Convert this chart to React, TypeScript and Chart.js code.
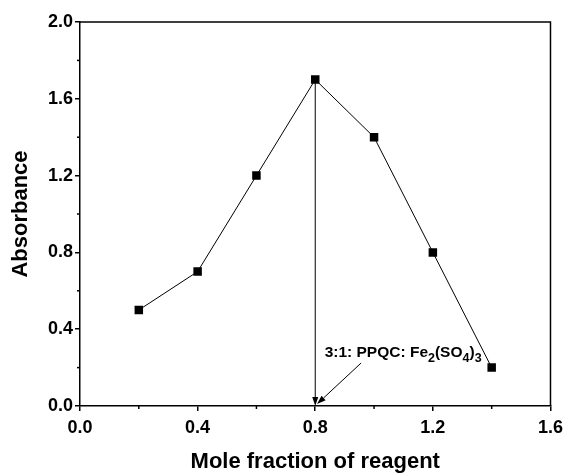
import React, { useEffect, useRef } from "react";
import { Chart, registerables } from "chart.js";

Chart.register(...registerables);

const moleFraction = [0.2, 0.4, 0.6, 0.8, 1.0, 1.2, 1.4];
const absorbance = [0.5, 0.7, 1.2, 1.7, 1.4, 0.8, 0.2];
const xMinorTicks = [0.2, 0.6, 1.0, 1.4];
const yMinorTicks = [0.2, 0.6, 1.0, 1.4, 1.8];

// annotation (data units)
const stoichX = 0.8;
const stoichTop = 1.7;
const labelPos = { x: 0.832, y: 0.257 };
const labelArrowFrom = { x: 0.956, y: 0.224 };
const labelArrowTo = { x: 0.806, y: 0.01 };

const FONT = "'Liberation Sans', Arial, sans-serif";

function arrow(ctx: CanvasRenderingContext2D, x1: number, y1: number, x2: number, y2: number) {
  const ang = Math.atan2(y2 - y1, x2 - x1);
  const len = 9;
  const half = 3;
  const bx = x2 - len * Math.cos(ang);
  const by = y2 - len * Math.sin(ang);
  ctx.beginPath();
  ctx.moveTo(x1, y1);
  ctx.lineTo(bx, by);
  ctx.stroke();
  ctx.beginPath();
  ctx.moveTo(x2, y2);
  ctx.lineTo(bx + half * Math.sin(ang), by - half * Math.cos(ang));
  ctx.lineTo(bx - half * Math.sin(ang), by + half * Math.cos(ang));
  ctx.closePath();
  ctx.fill();
}

const framePlugin = {
  id: "frame",
  afterDraw(chart: any) {
    const { ctx, chartArea, scales } = chart;
    const { left, right, top, bottom } = chartArea;
    ctx.save();
    ctx.strokeStyle = "#000";
    ctx.fillStyle = "#000";
    ctx.lineWidth = 1.5;
    ctx.beginPath();
    ctx.moveTo(left, top);
    ctx.lineTo(right, top);
    ctx.lineTo(right, bottom);
    ctx.stroke();
    // minor ticks
    xMinorTicks.forEach((v) => {
      const px = scales.x.getPixelForValue(v);
      ctx.beginPath();
      ctx.moveTo(px, bottom);
      ctx.lineTo(px, bottom + 3);
      ctx.stroke();
    });
    yMinorTicks.forEach((v) => {
      const py = scales.y.getPixelForValue(v);
      ctx.beginPath();
      ctx.moveTo(left, py);
      ctx.lineTo(left - 3, py);
      ctx.stroke();
    });
    ctx.restore();
  },
  afterDatasetsDraw(chart: any) {
    const { ctx, scales } = chart;
    const xs = scales.x;
    const ys = scales.y;
    ctx.save();
    ctx.strokeStyle = "#000";
    ctx.fillStyle = "#000";
    ctx.lineWidth = 1;
    arrow(ctx, xs.getPixelForValue(stoichX), ys.getPixelForValue(stoichTop), xs.getPixelForValue(stoichX), ys.getPixelForValue(0));
    arrow(
      ctx,
      xs.getPixelForValue(labelArrowFrom.x),
      ys.getPixelForValue(labelArrowFrom.y),
      xs.getPixelForValue(labelArrowTo.x),
      ys.getPixelForValue(labelArrowTo.y)
    );
    // label with subscripts
    const parts: [string, boolean][] = [
      ["3:1: PPQC: Fe", false],
      ["2", true],
      ["(SO", false],
      ["4", true],
      [")", false],
      ["3", true],
    ];
    let x = xs.getPixelForValue(labelPos.x);
    const y = ys.getPixelForValue(labelPos.y);
    ctx.textBaseline = "alphabetic";
    ctx.textAlign = "left";
    parts.forEach(([t, sub]) => {
      ctx.font = sub ? `bold 12.5px ${FONT}` : `bold 15.5px ${FONT}`;
      ctx.fillText(t, x, sub ? y + 5 : y);
      x += ctx.measureText(t).width;
    });
    ctx.restore();
  },
};

export default function App() {
  const ref = useRef<HTMLCanvasElement | null>(null);
  useEffect(() => {
    if (!ref.current) return;
    const chart = new Chart(ref.current, {
      type: "scatter",
      data: {
        datasets: [
          {
            data: moleFraction.map((x, i) => ({ x, y: absorbance[i] })),
            showLine: true,
            borderColor: "#000",
            borderWidth: 1,
            backgroundColor: "#000",
            pointStyle: "rect",
            pointRadius: 6,
            pointHoverRadius: 6,
            pointBorderWidth: 0,
          },
        ],
      },
      options: {
        animation: false,
        responsive: false,
        events: [],
        layout: { padding: { top: 22, right: 17, left: 0, bottom: 0 } },
        plugins: { legend: { display: false }, tooltip: { enabled: false } },
        scales: {
          x: {
            type: "linear",
            min: 0,
            max: 1.6,
            afterFit: (s: any) => {
              s.height = 67;
            },
            ticks: {
              stepSize: 0.4,
              color: "#000",
              padding: 6,
              font: { family: FONT, size: 18, weight: "bold" },
              callback: (v: any) => Number(v).toFixed(1),
            },
            grid: { drawOnChartArea: false, drawTicks: true, tickLength: 5, color: "#000", lineWidth: 1.5 },
            border: { display: true, color: "#000", width: 1.5 },
            title: {
              display: true,
              text: "Mole fraction of reagent",
              color: "#000",
              font: { family: FONT, size: 22, weight: "bold", lineHeight: 1 },
              padding: { top: 0, bottom: 0 },
            },
          },
          y: {
            type: "linear",
            min: 0,
            max: 2.0,
            afterFit: (s: any) => {
              s.width = 80;
            },
            ticks: {
              stepSize: 0.4,
              color: "#000",
              padding: 2,
              font: { family: FONT, size: 18, weight: "bold" },
              callback: (v: any) => Number(v).toFixed(1),
            },
            grid: { drawOnChartArea: false, drawTicks: true, tickLength: 5, color: "#000", lineWidth: 1.5 },
            border: { display: true, color: "#000", width: 1.5 },
            title: {
              display: true,
              text: "Absorbance",
              color: "#000",
              font: { family: FONT, size: 22, weight: "bold", lineHeight: 1 },
              padding: { top: 10, bottom: 0 },
            },
          },
        },
      },
      plugins: [framePlugin],
    });
    return () => chart.destroy();
  }, []);
  return (
    <div style={{ position: "absolute", left: 0, top: 0, width: 569, height: 473 }}>
      <canvas ref={ref} width={569} height={473} style={{ display: "block" }} />
    </div>
  );
}
